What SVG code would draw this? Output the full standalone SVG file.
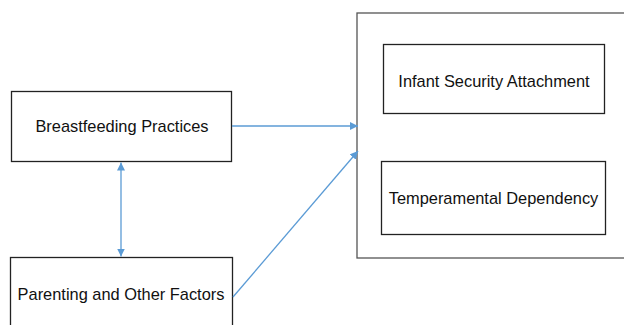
<svg xmlns="http://www.w3.org/2000/svg" width="624" height="325" viewBox="0 0 624 325">
  <style>
    .box { fill: #ffffff; stroke: #222222; stroke-width: 1.3; }
    .outer { fill: #ffffff; stroke: #555555; stroke-width: 1.3; }
    .label { font-family: "Liberation Sans", Arial, sans-serif; font-size: 16.4px; fill: #111111; text-anchor: middle; }
    .link { stroke: #5b9bd5; stroke-width: 1.3; fill: none; }
  </style>
  <defs>
    <marker id="arrow" viewBox="0 0 10 10" refX="10" refY="5" markerWidth="8" markerHeight="8" markerUnits="userSpaceOnUse" orient="auto-start-reverse">
      <path d="M0,0 L10,5 L0,10 z" fill="#5b9bd5"/>
    </marker>
  </defs>
  <rect width="624" height="325" fill="#ffffff"/>

  <g id="outcomes">
    <rect class="outer" x="357" y="13" width="280" height="245"/>
  </g>
  <g id="infant-security">
    <rect class="box" x="383.5" y="44.5" width="221" height="69"/>
    <text class="label" x="494" y="87">Infant Security Attachment</text>
  </g>
  <g id="temperamental">
    <rect class="box" x="381.5" y="161.5" width="224" height="73"/>
    <text class="label" x="493.5" y="204">Temperamental Dependency</text>
  </g>
  <g id="breastfeeding">
    <rect class="box" x="11.5" y="91.5" width="220" height="70"/>
    <text class="label" x="122" y="132">Breastfeeding Practices</text>
  </g>
  <g id="parenting">
    <rect class="box" x="10.5" y="257.5" width="222" height="80"/>
    <text class="label" x="121" y="300">Parenting and Other Factors</text>
  </g>

  <g id="connectors">
    <line class="link" x1="232" y1="126" x2="358" y2="126" marker-end="url(#arrow)"/>
    <line class="link" x1="233" y1="297" x2="358" y2="151" marker-end="url(#arrow)"/>
    <line class="link" x1="121" y1="162.5" x2="121" y2="256.5" marker-start="url(#arrow)" marker-end="url(#arrow)"/>
  </g>
</svg>
